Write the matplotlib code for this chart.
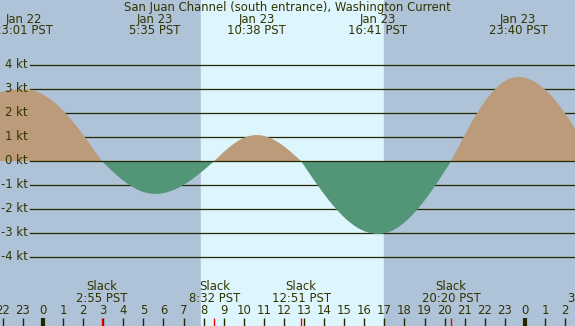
"""
plot.py

Tidal current prediction chart for San Juan Channel (south entrance).
"""

import numpy as np
import matplotlib
matplotlib.use("Agg")
import matplotlib.pyplot as plt

# hours relative to Jan 23 00:00 PST
extreme_hours = [-0.98, 5.58, 10.63, 16.68, 23.67]
extreme_values = [3.0, -1.37, 1.08, -3.04, 3.5]
extreme_dates = ["Jan 22", "Jan 23", "Jan 23", "Jan 23", "Jan 23"]
extreme_labels = ["23:01 PST", "5:35 PST", "10:38 PST", "16:41 PST", "23:40 PST"]

slack_hours = [-7.0, 2.92, 8.53, 12.85, 20.33, 27.45]
slack_labels = ["17:00 PST", "2:55 PST", "8:32 PST", "12:51 PST", "20:20 PST", "3:27 PST"]

sunrise, sunset = 7.87, 16.98
kt_levels = [4, 3, 2, 1, 0, -1, -2, -3, -4]
hour_ticks = list(range(-2, 27))

title = "San Juan Channel (south entrance), Washington Current"

NIGHT = "#aec2d8"
DAY = "#ddf6fe"
FLOOD = "#bb9b7a"
EBB = "#529677"
INK = "#333300"
LINE = "#262600"

# px -> data mapping (20.08 px per hour, 24 px per knot)
X0, X1 = -43 / 20.08, (575 - 43) / 20.08
Y0, Y1 = (161 - 326) / 24, 161 / 24


def current_curve(t):
    """Quarter-cosine segments between slack and extreme events."""
    events = sorted([(h, v) for h, v in zip(extreme_hours, extreme_values)] +
                    [(h, 0.0) for h in slack_hours])
    out = np.zeros_like(t)
    for (ta, va), (tb, vb) in zip(events[:-1], events[1:]):
        m = (t >= ta) & (t <= tb)
        f = (t[m] - ta) / (tb - ta)
        if va == 0.0:
            out[m] = vb * np.sin(np.pi / 2 * f)
        else:
            out[m] = va * np.cos(np.pi / 2 * f)
    return out


fig = plt.figure(figsize=(5.75, 3.26), dpi=100)
ax = fig.add_axes([0, 0, 1, 1])
ax.set_xlim(X0, X1)
ax.set_ylim(Y0, Y1)
ax.axis("off")
fs = 8.4

ax.axvspan(X0, sunrise, color=NIGHT, zorder=0)
ax.axvspan(sunrise, sunset, color=DAY, zorder=0)
ax.axvspan(sunset, X1, color=NIGHT, zorder=0)

xl = (30 - 43) / 20.08
for k in kt_levels:
    ax.plot([xl, X1], [k, k], color=LINE, lw=0.9, zorder=1 if k else 3)
    ax.text(xl - 0.1, k, f"{k} kt", ha="right", va="center", fontsize=fs, color=INK)

t = np.linspace(X0 - 0.1, X1 + 0.1, 2000)
v = current_curve(t)
ax.fill_between(t, 0, v, where=v >= 0, color=FLOOD, lw=0, zorder=2)
ax.fill_between(t, 0, v, where=v <= 0, color=EBB, lw=0, zorder=2)

# title and extremes on top
ax.text((287 - 43) / 20.08, (161 - 7) / 24, title, ha="center", va="center",
        fontsize=fs, color=INK)
for h, d, lab in zip(extreme_hours, extreme_dates, extreme_labels):
    ax.text(h, (161 - 19) / 24, d, ha="center", va="center", fontsize=fs, color=INK)
    ax.text(h, (161 - 31) / 24, lab, ha="center", va="center", fontsize=fs, color=INK)

# slack labels at the bottom (only those inside the view)
for h, lab in zip(slack_hours, slack_labels):
    if h < X0:
        continue
    ax.text(h, (161 - 287) / 24, "Slack", ha="center", va="center", fontsize=fs, color=INK)
    ax.text(h, (161 - 299) / 24, lab, ha="center", va="center", fontsize=fs, color=INK)

# hour ticks
ytick = (161 - 318) / 24
for h in hour_ticks:
    ax.text(h, (161 - 311) / 24, str(h % 24), ha="center", va="center",
            fontsize=fs, color=INK)
    lw = 3 if h % 24 == 0 else 1
    ax.plot([h, h], [ytick, Y0], color=LINE, lw=lw, solid_capstyle="butt", zorder=3)
for h in slack_hours:
    ax.plot([h, h], [ytick, Y0], color="red", lw=1, solid_capstyle="butt", zorder=3)

fig.savefig("out.png", dpi=100)
